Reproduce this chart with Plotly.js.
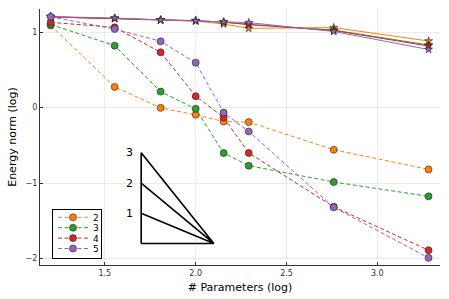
<!DOCTYPE html>
<html><head><meta charset="utf-8">
<script src="https://cdn.plot.ly/plotly-3.0.1.min.js"></script>
<style>html,body{margin:0;padding:0;background:#fff}</style>
</head><body><div id="chart" style="width:449px;height:299px"></div>
<script>
// x positions (log10 of # parameters)
const params = [1.202, 1.554, 1.807, 2.0, 2.154, 2.292, 2.760, 3.282];
const degrees = ["2", "3", "4", "5"];
const colors = ["#ff7f0e", "#2ca02c", "#d62728", "#9467bd"];
// dashed series (circles)
const dash2 = [1.087, 0.273, -0.004, -0.096, -0.185, -0.193, -0.559, -0.819];
const dash3 = [1.100, 0.819, 0.211, -0.017, -0.602, -0.770, -0.986, -1.176];
const dash4 = [1.128, 1.062, 0.732, 0.151, -0.132, -0.602, -1.315, -1.889];
const dash5 = [1.202, 1.040, 0.877, 0.594, -0.066, -0.317, -1.321, -1.990];
// solid series (stars)
const solid2 = [1.200, 1.178, 1.159, 1.145, 1.106, 1.049, 1.059, 0.881];
const solid3 = [1.200, 1.180, 1.159, 1.150, 1.132, 1.099, 1.026, 0.828];
const solid4 = [1.200, 1.180, 1.158, 1.150, 1.130, 1.100, 1.020, 0.815];
const solid5 = [1.205, 1.185, 1.160, 1.150, 1.135, 1.125, 1.007, 0.769];
// slope triangle
const triX = [1.7, 1.7, 2.1, 1.7, 2.1, 1.7, 2.1, 1.7];
const triY = [-1.8, -0.6, -1.8, -1.0, -1.8, -1.4, -1.8, -1.8];
const slopeLabels = ["3", "2", "1"];
const slopeLabelY = [-0.6, -1.0, -1.4];

const dashData = [dash2, dash3, dash4, dash5];
const solidData = [solid2, solid3, solid4, solid5];
const traces = [];
for (let i = 0; i < 4; i++) {
  traces.push({
    x: params, y: solidData[i], type: "scatter", mode: "lines+markers",
    line: {color: colors[i], width: 1},
    marker: {symbol: "star", size: 6, color: colors[i], line: {color: "#222", width: 0.6}},
    showlegend: false, hoverinfo: "skip"
  });
}
for (let i = 0; i < 4; i++) {
  traces.push({
    x: params, y: dashData[i], type: "scatter", mode: "lines+markers", name: degrees[i],
    line: {color: colors[i], width: 1, dash: "4px,2.5px"},
    marker: {symbol: "circle", size: 7, color: colors[i], line: {color: "#222", width: 0.6}}
  });
}
traces.push({
  x: triX, y: triY, type: "scatter", mode: "lines",
  line: {color: "#000", width: 1.6}, showlegend: false, hoverinfo: "skip"
});

const annotations = slopeLabels.map((t, i) => ({
  x: 1.637, y: slopeLabelY[i], xref: "x", yref: "y", text: t, showarrow: false,
  font: {family: "DejaVu Sans", size: 11, color: "#000"}
}));

const axisCommon = {
  showline: true, linecolor: "#333", linewidth: 1, mirror: false,
  ticks: "inside", ticklen: 3, tickcolor: "#333", tickwidth: 1,
  showgrid: true, gridcolor: "#ebebeb", gridwidth: 1, zeroline: false,
  tickfont: {family: "DejaVu Sans", size: 8, color: "#333"}
};

const layout = {
  width: 449, height: 299,
  margin: {l: 40, r: 9, t: 9, b: 34},
  paper_bgcolor: "#fff", plot_bgcolor: "#fff",
  showlegend: true,
  legend: {
    x: 0.031, y: 0.03, xanchor: "left", yanchor: "bottom",
    bordercolor: "#000", borderwidth: 1, bgcolor: "#fff",
    font: {family: "DejaVu Sans", size: 9, color: "#000"},
    tracegroupgap: 0, itemwidth: 30
  },
  xaxis: Object.assign({}, axisCommon, {
    range: [1.143, 3.345], tickvals: [1.5, 2.0, 2.5, 3.0], ticktext: ["1.5", "2.0", "2.5", "3.0"],
    title: {text: "# Parameters (log)", font: {family: "DejaVu Sans", size: 11, color: "#000"}, standoff: 6}
  }),
  yaxis: Object.assign({}, axisCommon, {
    range: [-2.085, 1.305], tickvals: [-2, -1, 0, 1], ticktext: ["\u22122", "\u22121", "0", "1"],
    title: {text: "Energy norm (log)", font: {family: "DejaVu Sans", size: 11, color: "#000"}, standoff: 6}
  }),
  annotations: annotations
};

const gd = document.getElementById("chart");
Plotly.newPlot(gd, traces, layout, {staticPlot: true, displayModeBar: false}).then(() => {
  // compact legend spacing to match reference
  const leg = gd.querySelector(".legend");
  if (!leg) return;
  leg.setAttribute("transform", "translate(52,209)");
  const items = leg.querySelectorAll(".traces");
  items.forEach((el, i) => {
    const tr = el.getAttribute("transform") || "";
    const m = tr.match(/translate\(([-\d.]+)[ ,]*([-\d.]+)?\)/);
    const x0 = m ? parseFloat(m[1]) : 1;
    el.setAttribute("transform", "translate(" + x0 + "," + (8.3 + i * 10.4) + ")");
  });
  const bg = leg.querySelector("rect.bg");
  if (bg) { bg.setAttribute("height", 49); bg.setAttribute("width", 48.5); }
});
</script>
</body></html>
